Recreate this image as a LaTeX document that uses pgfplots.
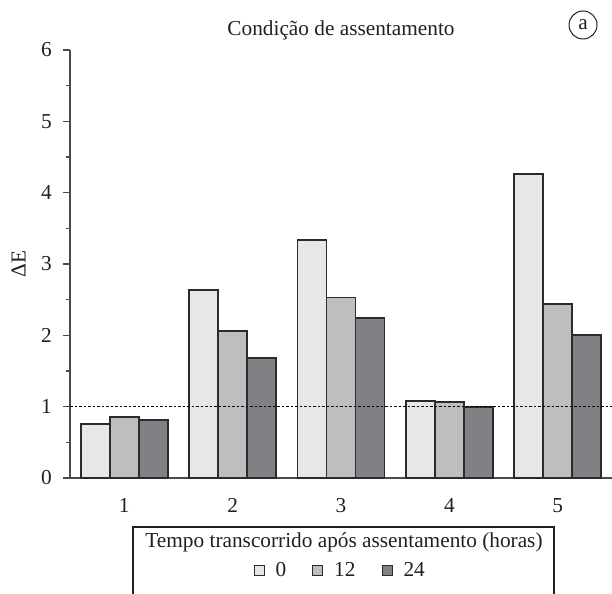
\documentclass[border=0pt]{standalone}
\usepackage{pgfplots}
\pgfplotsset{compat=1.18}
\usepackage{fontspec}
\setmainfont{Liberation Serif}
\definecolor{c0}{HTML}{E6E7E6}
\definecolor{c12}{HTML}{BDBEC0}
\definecolor{c24}{HTML}{808184}
\definecolor{edge}{HTML}{2B2B2B}
\definecolor{axc}{HTML}{4A4A4A}
\definecolor{txt}{HTML}{231F20}
\begin{document}
\fontsize{21.3bp}{25bp}\selectfont
\begin{tikzpicture}[x=1bp,y=1bp]
\clip (0,0) rectangle (612,594);
\begin{axis}[
  at={(70bp,116bp)}, anchor=south west,
  width=542bp, height=428bp, scale only axis,
  xmin=0.5, xmax=5.5, ymin=0, ymax=6,
  axis x line=bottom, axis y line=left,
  axis line style={-, axc, line width=1.3bp},
  clip=false,
  /pgf/number format/assume math mode=true,
  tick align=outside,
  major tick length=7bp, minor tick length=4bp,
  tick style={axc, line width=1.3bp},
  xtick={1,2,3,4,5},
  xtick style={draw=none},
  extra x ticks={0.5,1.5,2.5,3.5,4.5,5.5},
  extra x tick labels={},
  extra x tick style={tick style={axc, line width=1.3bp}},
  ytick={0,1,2,3,4,5,6},
  minor ytick={0.5,1.5,2.5,3.5,4.5,5.5},
  xticklabel style={text=txt, yshift=-6bp},
  yticklabel style={text=txt, xshift=-4bp},
  ylabel={ΔE},
  ylabel style={at={(axis description cs:-0.095,0.5)}, anchor=center, text=txt},
  ybar=0pt, bar width=29bp,
  legend style={at={(axis description cs:0.4985,-0.217)}, anchor=center, draw=none, fill=none,
    legend columns=3, text=txt,
    /tikz/every odd column/.append style={column sep=9bp},
    /tikz/every even column/.append style={column sep=24bp}},
  legend image code/.code={\draw[#1, line width=1bp] (0bp,-5bp) rectangle (10bp,5bp);},
]
\addplot[fill=c0, draw=edge, line width=1.8bp] coordinates {(1,0.76) (2,2.64) (3,3.34) (4,1.08) (5,4.26)};
\addplot[fill=c12, draw=edge, line width=1.8bp] coordinates {(1,0.86) (2,2.06) (3,2.53) (4,1.06) (5,2.44)};
\addplot[fill=c24, draw=edge, line width=1.8bp] coordinates {(1,0.81) (2,1.68) (3,2.24) (4,1.00) (5,2.00)};
\legend{0,12,24}
\addplot[sharp plot, black, line width=1.5bp, dash pattern=on 2.5bp off 2bp, forget plot] coordinates {(0.5,1) (5.5,1)};
\node[anchor=base, text=txt] at (rel axis cs:0.5,1.0327) {Condição de assentamento};
\node[circle, draw=txt, line width=1bp, minimum size=28bp, inner sep=0pt, text=txt] at (rel axis cs:0.9465,1.0584) {a};
\end{axis}
\draw[line width=1.2bp, txt] (133,-20) rectangle (554,67);
\node[anchor=base, text=txt] at (344,46) {Tempo transcorrido após assentamento (horas)};
\end{tikzpicture}
\end{document}
